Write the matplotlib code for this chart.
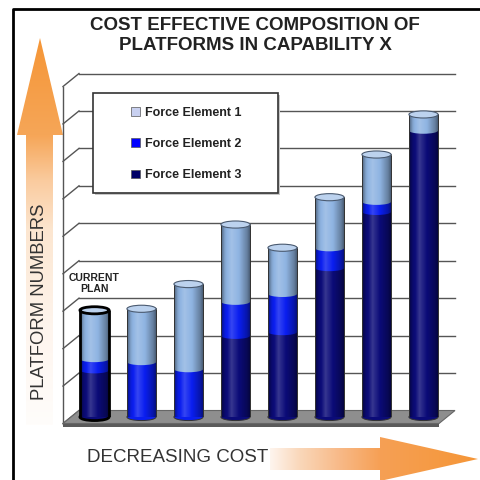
import numpy as np
import matplotlib
matplotlib.use("Agg")
import matplotlib.pyplot as plt
from matplotlib.patches import Rectangle, Ellipse, Polygon, Patch
from matplotlib.lines import Line2D
from matplotlib.transforms import IdentityTransform

plt.rcParams['font.family'] = ['Liberation Sans', 'DejaVu Sans']

# ---------------- data ----------------
options = ['Current plan', 'Option 2', 'Option 3', 'Option 4',
           'Option 5', 'Option 6', 'Option 7', 'Option 8']
fe1 = [1.30, 1.42, 2.27, 2.06, 1.23, 1.36, 1.26, 0.43]
fe2 = [0.30, 1.47, 1.28, 0.91, 1.02, 0.53, 0.27, 0.00]
fe3 = [1.25, 0.00, 0.00, 2.17, 2.27, 3.98, 5.48, 7.65]
series_labels = ['Force Element 1', 'Force Element 2', 'Force Element 3']
title_text = 'COST EFFECTIVE COMPOSITION OF\nPLATFORMS IN CAPABILITY X'
ylabel_text = 'PLATFORM NUMBERS'
xlabel_text = 'DECREASING COST'
note_text = 'CURRENT\nPLAN'
y_max = 9

# ---------------- styles ----------------
C1, C2, C3 = '#8fb4e2', '#0a1ef0', '#0b0b78'
C1_TOP = '#bcd2ee'
LEG = ['#c8d0f0', '#0000ff', '#000066']

fig = plt.figure(figsize=(4.8, 4.8), dpi=100)
fig.patch.set_facecolor('white')

# background / decoration axes in pixel units
bg = fig.add_axes([0, 0, 1, 1], zorder=0)
bg.set_xlim(0, 480)
bg.set_ylim(480, 0)
bg.axis('off')

def gradient_poly(ax_, verts, stops_pos, stops_col, vertical, extent):
    poly = Polygon(verts, closed=True, fc='none', ec='none')
    ax_.add_patch(poly)
    n = 256
    t = np.linspace(stops_pos[0], stops_pos[-1], n)
    cols = np.array(stops_col) / 255.0
    rgb = np.stack([np.interp(t, stops_pos, cols[:, k]) for k in range(3)], axis=-1)
    if vertical:
        img = rgb[:, None, :]
    else:
        img = rgb[None, :, :]
    im = ax_.imshow(img, extent=extent, aspect='auto', interpolation='bilinear', zorder=1)
    im.set_clip_path(poly)

# up arrow
up = [(40, 38), (63, 135), (53, 135), (53, 425), (26, 425), (26, 135), (17, 135)]
gradient_poly(bg, up, [38, 135, 180, 230, 330, 425],
              [(245, 150, 55), (246, 166, 88), (250, 203, 158), (252, 230, 208),
               (254, 245, 238), (255, 253, 251)],
              True, [17, 63, 425, 38])
# right arrow
rt = [(270, 448), (380, 448), (380, 437), (478, 459), (380, 481), (380, 470), (270, 470)]
gradient_poly(bg, rt, [270, 300, 340, 380, 478],
              [(254, 245, 238), (250, 215, 185), (248, 185, 135), (246, 160, 85), (245, 150, 55)],
              False, [270, 478, 481, 437])

# frame border (top + left)
bg.plot([13, 13, 480], [480, 9, 9], color='black', lw=2, solid_capstyle='butt', zorder=5)

# ---------------- main chart axes ----------------
ax = fig.add_axes([71 / 480, 63 / 480, 376 / 480, 337 / 480], zorder=1)
ax.set_xlim(-0.5, len(options) - 0.5)
ax.set_ylim(0, y_max)
ax.axis('off')
ax.patch.set_alpha(0)

DX, DY = 8.0, 6.5
def P(x, v, d):
    return ax.transData.transform((x, v)) + d * np.array([DX, DY])

def deco(artist):
    artist.set_clip_on(False)
    ax.add_artist(artist)
    artist.set_clip_on(False)
    artist.set_clip_path(None)

x0, x1 = -0.5, len(options) - 0.5
# gridlines on back wall + left wall
for v in range(0, y_max + 1):
    a, b = P(x0, v, 1), P(x1, v, 1)
    c = P(x0, v, -1)
    if v > 0:
        deco(Line2D([a[0], b[0]], [a[1], b[1]], color='#555555', lw=1,
                    transform=IdentityTransform(), zorder=0.5))
    deco(Line2D([c[0], a[0]], [c[1], a[1]], color='#555555', lw=1,
                transform=IdentityTransform(), zorder=0.5))
f0, f1 = P(x0, 0, -1), P(x0, y_max, -1)
deco(Line2D([f0[0], f1[0]], [f0[1], f1[1]], color='#555555', lw=1,
            transform=IdentityTransform(), zorder=0.5))
# floor
fl = [P(x0, 0, -1), P(x1, 0, -1), P(x1, 0, 1), P(x0, 0, 1)]
deco(Polygon(fl, closed=True, fc='#8e8e8e', ec='#666666', lw=0.8,
             transform=IdentityTransform(), zorder=0.6))
slab = [P(x0, 0, -1), P(x1, 0, -1), P(x1, 0, -1) + np.array([0, -3]), P(x0, 0, -1) + np.array([0, -3])]
deco(Polygon(slab, closed=True, fc='#5a5a5a', ec='none',
             transform=IdentityTransform(), zorder=0.6))

# ---------------- cylinders ----------------
x = np.arange(len(options))
w = 0.62
eh = 0.19
fe1a, fe2a, fe3a = np.array(fe1), np.array(fe2), np.array(fe3)
tot = fe1a + fe2a + fe3a

ax.bar(x, fe3a, width=w, color=C3, lw=0, zorder=2)
ax.bar(x, fe2a, bottom=fe3a, width=w, color=C2, lw=0, zorder=2)
ax.bar(x, fe1a, bottom=fe3a + fe2a, width=w, color=C1, lw=0, zorder=2)

# shading profile across a cylinder
tt = np.linspace(0, 1, 64)
shade = np.interp(tt, [0, 0.12, 0.35, 0.6, 0.88, 1], [-0.45, -0.1, 0.18, 0.0, -0.3, -0.55])
rgba = np.zeros((1, 64, 4))
rgba[0, :, :3] = (shade > 0)[:, None] * 1.0
rgba[0, :, 3] = np.abs(shade)

for i in range(len(options)):
    segs = [(fe3a[i], C3), (fe2a[i], C2), (fe1a[i], C1)]
    segs = [s for s in segs if s[0] > 0]
    ec = 'black' if i == 0 else '#333333'
    lw = 2.0 if i == 0 else 0.7
    # bottom ellipse
    ax.add_patch(Ellipse((x[i], 0), w, eh, fc=segs[0][1], ec=ec, lw=lw, zorder=1.9, clip_on=False))
    # boundaries
    b = 0.0
    for k in range(len(segs) - 1):
        b += segs[k][0]
        ax.add_patch(Ellipse((x[i], b), w, eh * 0.9, fc=segs[k + 1][1], ec='none', zorder=2.5))
    ax.imshow(rgba, extent=[x[i] - w / 2, x[i] + w / 2, 0, tot[i]], aspect='auto',
              interpolation='bilinear', zorder=3)
    ax.vlines([x[i] - w / 2, x[i] + w / 2], 0, tot[i], colors=ec, lw=lw, zorder=3.5)
    ax.add_patch(Ellipse((x[i], tot[i]), w, eh, fc=C1_TOP, ec=ec if i == 0 else '#4a5a70',
                         lw=lw if i == 0 else 0.8, zorder=4, clip_on=False))

ax.set_xlim(-0.5, len(options) - 0.5)
ax.set_ylim(0, y_max)

ax.text(x[0], 3.57, note_text, ha='center', va='center', fontsize=7.5,
        fontweight='bold', color='#222222', linespacing=1.1, zorder=5)

# ---------------- legend ----------------
fig.add_artist(Rectangle((95 / 480, 285 / 480), 185 / 480, 100 / 480, transform=fig.transFigure,
                         fc='#c8c8c8', ec='none', zorder=2.4))
fig.add_artist(Rectangle((93 / 480, 287 / 480), 185 / 480, 100 / 480, transform=fig.transFigure,
                         fc='white', ec='#333333', lw=1.2, zorder=2.5))
handles = [Patch(fc=LEG[k], ec='#555555', lw=0.5) for k in range(3)]
fig.legend(handles, series_labels, loc='center left', bbox_to_anchor=(131 / 480, 1 - 144 / 480),
           frameon=False, prop={'family': 'Liberation Sans', 'weight': 'bold', 'size': 9},
           handlelength=0.7, handleheight=0.7, handletextpad=0.4, labelspacing=1.55,
           borderpad=0, borderaxespad=0, labelcolor='#222222')

# ---------------- texts ----------------
fig.text(255 / 480, 1 - 35.5 / 480, title_text, ha='center', va='center', fontsize=13.5,
         fontweight='bold', color='#222222', linespacing=1.25, zorder=6)
fig.text(40 / 480, 1 - 302 / 480, ylabel_text, rotation=90, ha='center', va='center',
         fontsize=13.3, color='#333333', zorder=6)
fig.text(87 / 480, 1 - 458 / 480, xlabel_text, ha='left', va='center',
         fontsize=13.5, color='#333333', zorder=6)

fig.savefig('out.png', dpi=100)
